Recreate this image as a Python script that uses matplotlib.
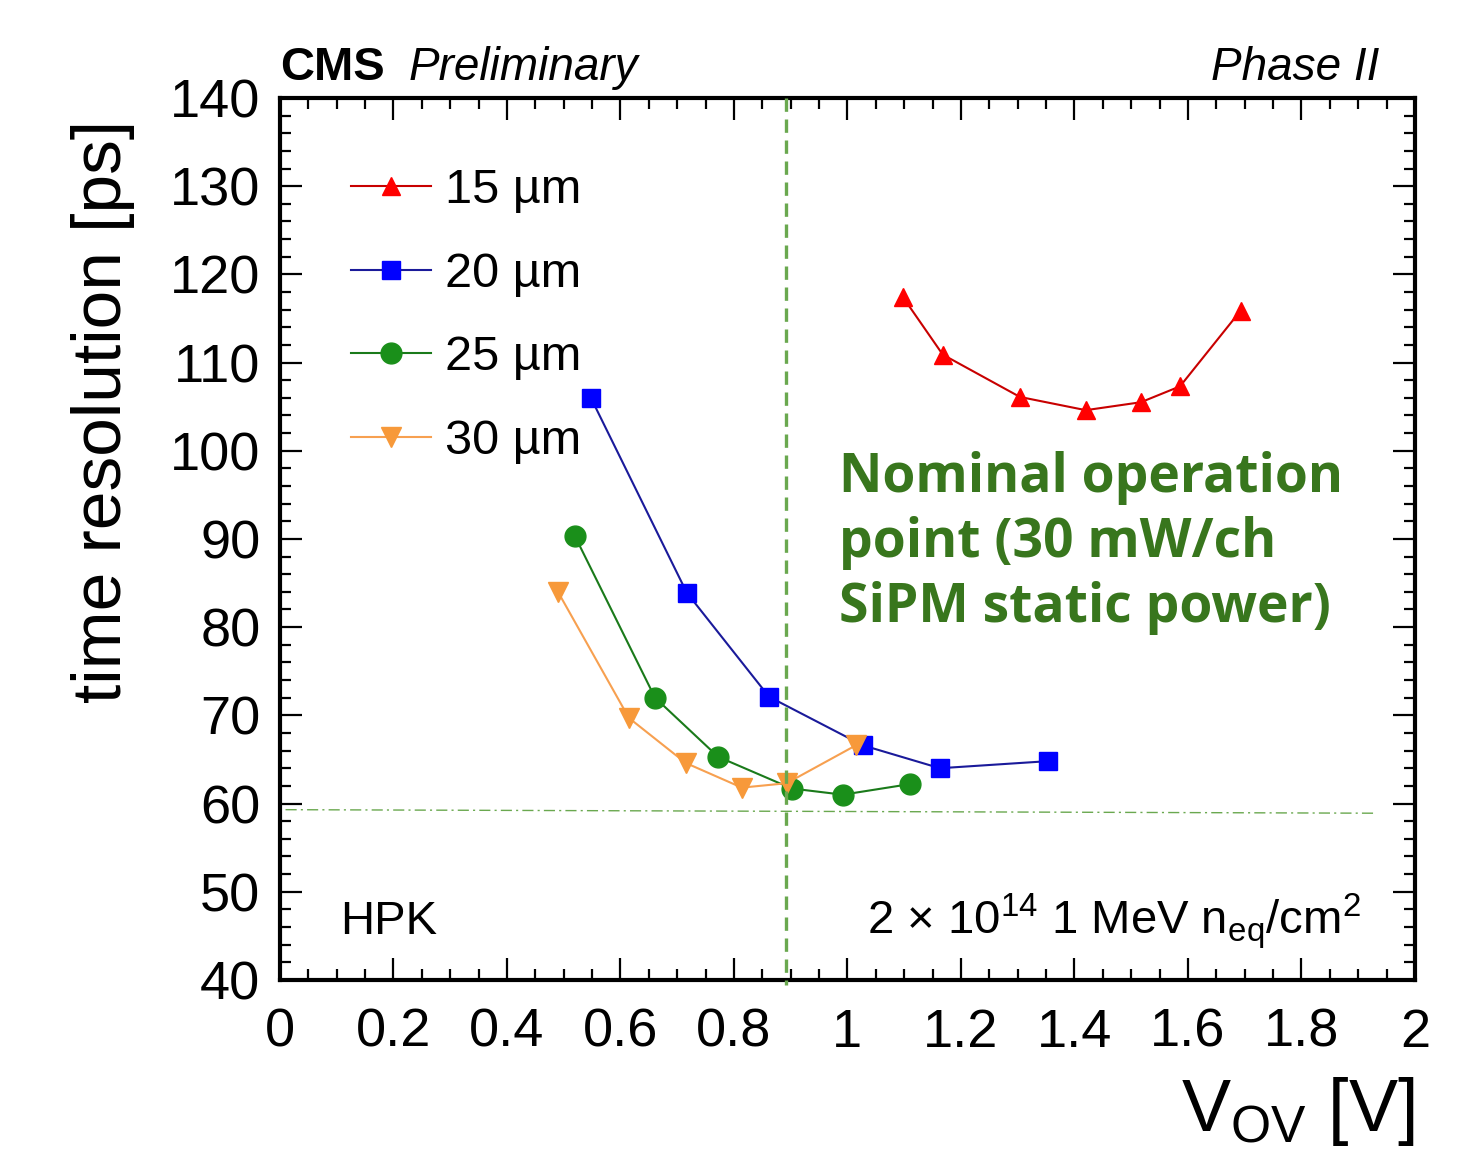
import numpy as np
import matplotlib.pyplot as plt
from matplotlib.ticker import MultipleLocator

plt.rcParams['font.family'] = ['Liberation Sans', 'DejaVu Sans']
plt.rcParams['mathtext.fontset'] = 'custom'
plt.rcParams['mathtext.rm'] = 'Liberation Sans'
plt.rcParams['mathtext.it'] = 'Liberation Sans:italic'
plt.rcParams['mathtext.bf'] = 'Liberation Sans:bold'

# time resolution vs overvoltage, per SiPM cell size
vov_15 = [1.098, 1.168, 1.304, 1.420, 1.517, 1.586, 1.693]
res_15 = [117.4, 110.9, 106.1, 104.6, 105.5, 107.3, 115.9]

vov_20 = [0.548, 0.717, 0.862, 1.027, 1.163, 1.353]
res_20 = [106.0, 83.9, 72.1, 66.6, 64.0, 64.8]

vov_25 = [0.520, 0.661, 0.772, 0.902, 0.992, 1.110]
res_25 = [90.3, 72.0, 65.3, 61.7, 61.0, 62.2]

vov_30 = [0.490, 0.615, 0.715, 0.814, 0.893, 1.015]
res_30 = [84.0, 69.7, 64.6, 61.8, 62.3, 66.6]

labels = ['15 \u00b5m', '20 \u00b5m', '25 \u00b5m', '30 \u00b5m']
colors = ['#ff0000', '#0000ff', '#1a8f1a', '#f7993a']
line_colors = ['#c80000', '#1a1a9a', '#1a7a1a', '#f7a050']
markers = ['^', 's', 'o', 'v']
msizes = [13, 13, 15, 14]

nominal_vov = 0.892
ref_line_x = [0.01, 1.93]
ref_line_y = [59.3, 58.9]

fig = plt.figure(figsize=(14.73, 11.61), dpi=100)
ax = fig.add_axes([0.190, 0.156, 0.7706, 0.7596])

series = [(vov_15, res_15), (vov_20, res_20), (vov_25, res_25), (vov_30, res_30)]
for (x, y), lab, c, lc, m, ms in zip(series, labels, colors, line_colors, markers, msizes):
    ax.plot(x, y, color=lc, lw=1.5, marker=m, markersize=ms,
            markerfacecolor=c, markeredgecolor=c, label=lab, zorder=3)

# nominal operation point and reference level
ax.plot([nominal_vov, nominal_vov], [140, 39.4], color='#6aa84f', lw=2.4,
        dashes=(4, 2.3), clip_on=False, zorder=4)
ax.plot(ref_line_x, ref_line_y, color='#6aa84f', lw=1.0,
        dashes=(8, 3, 1.5, 3), zorder=2)

ax.set_xlim(0, 2)
ax.set_ylim(40, 140)
ax.xaxis.set_ticks(np.arange(0, 2.01, 0.2))
ax.set_xticklabels(['0', '0.2', '0.4', '0.6', '0.8', '1', '1.2', '1.4', '1.6', '1.8', '2'])
ax.xaxis.set_minor_locator(MultipleLocator(0.05))
ax.yaxis.set_major_locator(MultipleLocator(10))
ax.yaxis.set_minor_locator(MultipleLocator(2))

ax.tick_params(which='both', direction='in', top=True, right=True, width=1.6)
ax.tick_params(which='major', length=16, labelsize=39)
ax.tick_params(which='minor', length=8)
ax.tick_params(axis='x', which='major', pad=20)
ax.tick_params(axis='y', which='major', pad=14)
for s in ax.spines.values():
    s.set_linewidth(3)

ax.set_ylabel('time resolution [ps]', fontsize=50, loc='top')
ax.yaxis.set_label_coords(-0.128, 0.975)
ax.set_xlabel(r'V$_{\mathrm{OV}}$ [V]', fontsize=53, loc='right')
ax.xaxis.set_label_coords(1.0, -0.108)

leg = ax.legend(loc='upper left', bbox_to_anchor=(0.063, 0.921), frameon=False,
                fontsize=35, handlelength=1.63, handletextpad=0.3,
                labelspacing=0.8, borderpad=0, borderaxespad=0)

ax.text(0.0, 1.02, 'CMS', transform=ax.transAxes, fontsize=34,
        fontweight='bold', ha='left', va='baseline')
ax.text(0.113, 1.02, 'Preliminary', transform=ax.transAxes, fontsize=33,
        fontstyle='italic', ha='left', va='baseline')
ax.text(0.969, 1.02, 'Phase II', transform=ax.transAxes, fontsize=33,
        fontstyle='italic', ha='right', va='baseline')

ax.text(0.053, 0.052, 'HPK', transform=ax.transAxes, fontsize=34,
        ha='left', va='baseline')
ax.text(0.952, 0.052, '2 \u00d7 10$^{14}$ 1 MeV n$_{\\mathrm{eq}}$/cm$^{2}$',
        transform=ax.transAxes, fontsize=34, ha='right', va='baseline')

ax.text(0.493, 0.600, 'Nominal operation\npoint (30 mW/ch\nSiPM static power)',
        transform=ax.transAxes, fontsize=38.5, fontweight='bold',
        family=['Open Sans', 'DejaVu Sans'], color='#38761d', ha='left', va='top',
        linespacing=1.27)

fig.savefig('out.png', dpi=100)
